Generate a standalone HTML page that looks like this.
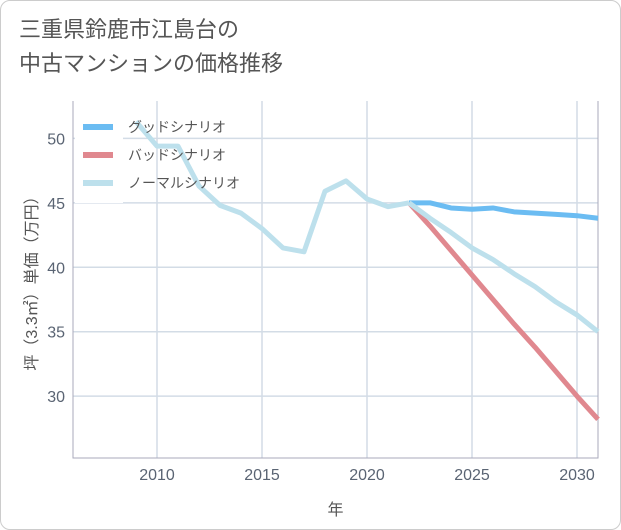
<!DOCTYPE html>
<html><head><meta charset="utf-8"><style>
body{margin:0;background:#fff;font-family:"Liberation Sans","Noto Sans CJK JP",sans-serif}
#wrap{position:relative;width:619px;height:528px;border:1px solid #ccc;border-radius:10px;overflow:hidden;background:#fff}
#title{position:absolute;left:18px;top:12px;font-size:22px;line-height:34px;color:#555}
svg{position:absolute;left:0;top:0}
</style></head><body>
<div id="wrap">
<div id="title">三重県鈴鹿市江島台の<br>中古マンションの価格推移</div>
<svg id="c" width="621" height="530"></svg>
</div>
<script>
const years=[2009,2010,2011,2012,2013,2014,2015,2016,2017,2018,2019,2020,2021,2022];
const hist=[51.3,49.4,49.4,46.3,44.8,44.2,43.0,41.5,41.2,45.9,46.7,45.3,44.7,45.0];
const fYears=[2022,2023,2024,2025,2026,2027,2028,2029,2030,2031];
const good=[45.0,45.0,44.6,44.5,44.6,44.3,44.2,44.1,44.0,43.8];
const bad=[45.0,43.2,41.3,39.4,37.5,35.6,33.8,31.9,30.0,28.2];
const normal=[45.0,43.8,42.7,41.5,40.6,39.5,38.5,37.3,36.3,35.0];
const xTicks=[2010,2015,2020,2025,2030];
const yTicks=[30,35,40,45,50];
const L=72,R=597,T=100,B=457,x0=2006,x1=2031,y0=25.2,y1=52.9;
const X=v=>L+(v-x0)/(x1-x0)*(R-L), Y=v=>B-(v-y0)/(y1-y0)*(B-T);
const svg=document.getElementById('c'),NS='http://www.w3.org/2000/svg';
function mk(t,a,p){const e=document.createElementNS(NS,t);for(const k in a)e.setAttribute(k,a[k]);(p||svg).appendChild(e);return e;}
for(const t of xTicks){const l=mk('line',{x1:X(t),x2:X(t),y1:T,y2:B,stroke:'#d3dce6','stroke-width':1.5});

const tx=mk('text',{x:X(t),y:B+22,'text-anchor':'middle','font-size':16,fill:'#5a6473'});tx.textContent=t;
}
for(const t of yTicks){const l=mk('line',{x1:L,x2:R,y1:Y(t),y2:Y(t),stroke:'#d3dce6','stroke-width':1.5});

const tx=mk('text',{x:L-8,y:Y(t)+6,'text-anchor':'end','font-size':16,fill:'#5a6473'});tx.textContent=t;
}
const ax=mk('path',{d:`M${L} ${T}V${B}H${R}V${T}`,fill:'none',stroke:'#aab','stroke-width':1});

function line(xs,vs,c,n){const p=mk('polyline',{points:xs.map((x,i)=>X(x)+','+Y(vs[i])).join(' '),fill:'none',stroke:c,'stroke-width':5,'stroke-linejoin':'round'});
}
line(fYears,good,'#6bbcf2','good-scenario-line');
line(fYears,bad,'#e0888f','bad-scenario-line');
line(fYears,normal,'#bde0ec','normal-scenario-line');
line(years,hist,'#bde0ec','historical-line');
const lg=mk('rect',{x:74,y:110,width:48,height:92,fill:'#fff'});

[['グッドシナリオ','#6bbcf2'],['バッドシナリオ','#e0888f'],['ノーマルシナリオ','#bde0ec']].forEach((d,i)=>{
const y=126+i*28;const s=mk('line',{x1:82,x2:112,y1:y,y2:y,stroke:d[1],'stroke-width':6});

const t=mk('text',{x:127,y:y+5,'font-size':14,fill:'#555'});t.textContent=d[0];
});
const xt=mk('text',{x:(L+R)/2,y:514,'text-anchor':'middle','font-size':16,fill:'#555'});xt.textContent='年';

const yt=mk('text',{x:0,y:0,'text-anchor':'middle','font-size':16,fill:'#555',transform:`translate(36 ${(T+B)/2}) rotate(-90)`});yt.textContent='坪（3.3㎡）単価（万円）';

</script>
</body></html>
